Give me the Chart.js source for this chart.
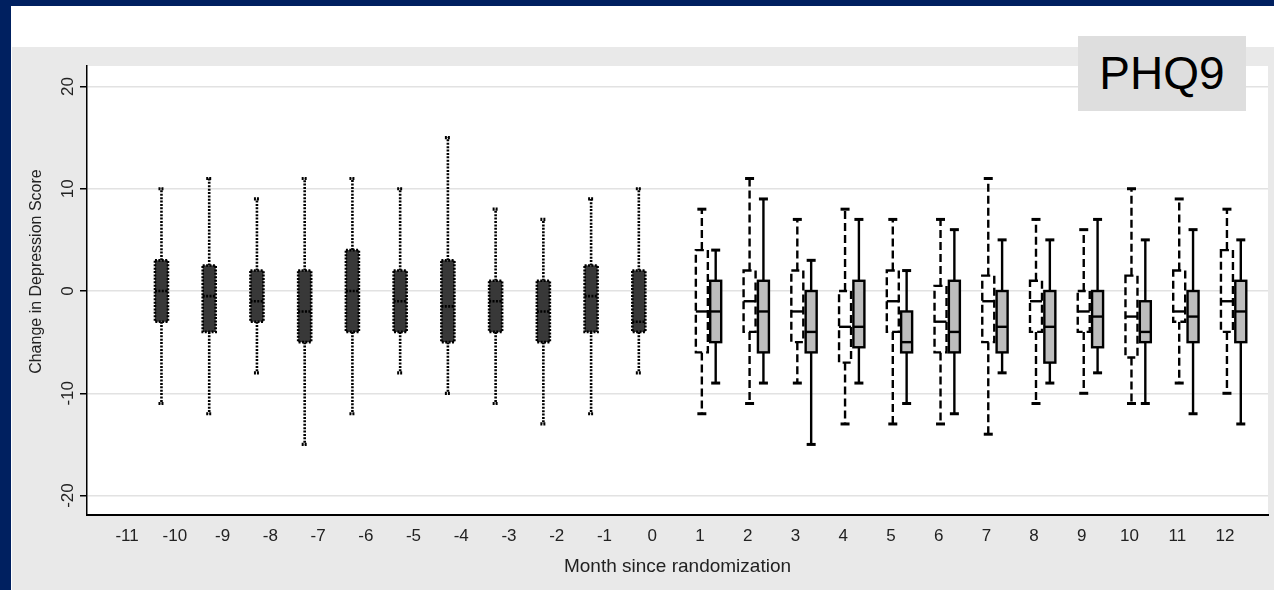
<!DOCTYPE html>
<html>
<head>
<meta charset="utf-8">
<script src="https://cdn.jsdelivr.net/npm/chart.js@4.4.1/dist/chart.umd.min.js"></script>
<style>
  html, body { margin: 0; padding: 0; }
  body { width: 1274px; height: 590px; background: #002060; position: relative; overflow: hidden;
         font-family: "Liberation Sans", Arial, sans-serif; }
  #blanco { position: absolute; left: 11px; top: 6px; width: 1263px; height: 584px; background: #fff; }
  #panel { position: absolute; left: 12px; top: 47px; width: 1262px; height: 543px; background: #e9e9e9; }
  #etiqueta { position: absolute; left: 1078px; top: 36px; width: 168px; height: 75px; background: #dedede;
              font-size: 46px; line-height: 75px; text-align: center; color: #000; z-index: 5; }
</style>
</head>
<body>
<div id="blanco"></div>
<div id="panel"><canvas id="grafico" width="1262" height="543"></canvas></div>
<div id="etiqueta">PHQ9</div>
<script>
// ticks
const mesesTicks = [-11, -10, -9, -8, -7, -6, -5, -4, -3, -2, -1, 0, 1, 2, 3, 4, 5, 6, 7, 8, 9, 10, 11, 12];
const yTicks = [-20, -10, 0, 10, 20];
const yTitulo = 'Change in Depression Score';

// antes de la aleatorizacion (cajas punteadas)
const mesesPre = [-10, -9, -8, -7, -6, -5, -4, -3, -2, -1, 0];
const preMin = [-11, -12, -8, -15, -12, -8, -10, -11, -13, -12, -8];
const preQ1  = [-3, -4, -3, -5, -4, -4, -5, -4, -5, -4, -4];
const preMed = [0, -0.5, -1, -2, 0, -1, -1.5, -1, -2, -0.5, -3];
const preQ3  = [3, 2.5, 2, 2, 4, 2, 3, 1, 1, 2.5, 2];
const preMax = [10, 11, 9, 11, 11, 10, 15, 8, 7, 9, 10];

// despues (cajas blancas discontinuas)
const mesesPost = [1, 2, 3, 4, 5, 6, 7, 8, 9, 10, 11, 12];
const aMin = [-12, -11, -9, -13, -13, -13, -14, -11, -10, -11, -9, -10];
const aQ1  = [-6, -4, -5, -7, -4, -6, -5, -4, -4, -6.5, -3, -4];
const aMed = [-2, -1, -2, -3.5, -1, -3, -1, -1, -2, -2.5, -2, -1];
const aQ3  = [4, 2, 2, 0, 2, 0.5, 1.5, 1, 0, 1.5, 2, 4];
const aMax = [8, 11, 7, 8, 7, 7, 11, 7, 6, 10, 9, 8];

// despues (cajas grises solidas)
const bMin = [-9, -9, -15, -9, -11, -12, -8, -9, -8, -11, -12, -13];
const bQ1  = [-5, -6, -6, -5.5, -6, -6, -6, -7, -5.5, -5, -5, -5];
const bMed = [-2, -2, -4, -3.5, -5, -4, -3.5, -3.5, -2.5, -4, -2.5, -2];
const bQ3  = [1, 1, 0, 1, -2, 1, 0, 0, 0, -1, 0, 1];
const bMax = [4, 9, 3, 7, 2, 6, 5, 5, 7, 5, 6, 5];

function armarCajas(meses, desp, mn, q1, med, q3, mx) {
  return meses.map((m, i) => ({ x: m + desp, y: med[i], min: mn[i], q1: q1[i], med: med[i], q3: q3[i], max: mx[i] }));
}

const estilos = {
  pre:   { ancho: 13, tapa: 6, lw: 2.6, dash: [2, 1.4], fill: '#383838', tapaDash: [2, 1] },
  ctrl:  { ancho: 12, tapa: 9, lw: 2.4, dash: [8, 4], fill: '#ffffff', tapaDash: [] },
  inter: { ancho: 11, tapa: 9, lw: 2.4, dash: [], fill: '#bdbdbd', tapaDash: [] }
};

function linea(ctx, x1, y1, x2, y2) {
  ctx.beginPath(); ctx.moveTo(x1, y1); ctx.lineTo(x2, y2); ctx.stroke();
}

const fondoPlugin = {
  id: 'fondo',
  beforeDraw(chart) {
    const { ctx, chartArea: a } = chart;
    ctx.save();
    ctx.fillStyle = '#fff';
    ctx.fillRect(a.left, a.top, a.right - a.left, a.bottom - a.top);
    ctx.restore();
  }
};

const cajasPlugin = {
  id: 'cajas',
  afterDatasetsDraw(chart) {
    const { ctx, scales: { x, y } } = chart;
    chart.data.datasets.forEach(ds => {
      const st = estilos[ds.estilo];
      ds.data.forEach(d => {
        const cx = x.getPixelForValue(d.x);
        const h = st.ancho / 2;
        const yMin = y.getPixelForValue(d.min), yQ1 = y.getPixelForValue(d.q1);
        const yMed = y.getPixelForValue(d.med), yQ3 = y.getPixelForValue(d.q3);
        const yMax = y.getPixelForValue(d.max);
        ctx.save();
        ctx.strokeStyle = '#000';
        ctx.lineWidth = st.lw;
        ctx.setLineDash(st.dash);
        linea(ctx, cx, yQ3, cx, yMax);
        linea(ctx, cx, yQ1, cx, yMin);
        ctx.setLineDash(st.tapaDash);
        ctx.lineWidth = st.lw + 0.6;
        linea(ctx, cx - st.tapa / 2, yMax, cx + st.tapa / 2, yMax);
        linea(ctx, cx - st.tapa / 2, yMin, cx + st.tapa / 2, yMin);
        ctx.lineWidth = st.lw;
        ctx.fillStyle = st.fill;
        ctx.fillRect(cx - h, yQ3, st.ancho, yQ1 - yQ3);
        ctx.setLineDash(st.dash);
        ctx.strokeRect(cx - h, yQ3, st.ancho, yQ1 - yQ3);
        ctx.setLineDash(ds.estilo === 'pre' ? st.dash : []);
        linea(ctx, cx - h, yMed, cx + h, yMed);
        ctx.restore();
      });
    });
  }
};

// etiquetas y titulo del eje y, giradas como en Stata
const yEtiquetasPlugin = {
  id: 'yEtiquetas',
  afterDraw(chart) {
    const { ctx, scales: { y } } = chart;
    ctx.save();
    ctx.fillStyle = '#222';
    ctx.textAlign = 'center';
    ctx.textBaseline = 'middle';
    ctx.font = '17px "Liberation Sans", Arial, sans-serif';
    yTicks.forEach(v => {
      ctx.save();
      ctx.translate(56, y.getPixelForValue(v));
      ctx.rotate(-Math.PI / 2);
      ctx.fillText(String(v), 0, 0);
      ctx.restore();
    });
    ctx.font = '16px "Liberation Sans", Arial, sans-serif';
    ctx.translate(25, y.getPixelForValue(1.9));
    ctx.rotate(-Math.PI / 2);
    ctx.fillText(yTitulo, 0, 0);
    ctx.restore();
  }
};

const ctx = document.getElementById('grafico').getContext('2d');
new Chart(ctx, {
  type: 'scatter',
  data: {
    datasets: [
      { label: 'pre', estilo: 'pre', data: armarCajas(mesesPre, -0.28, preMin, preQ1, preMed, preQ3, preMax), pointRadius: 0 },
      { label: 'ctrl', estilo: 'ctrl', data: armarCajas(mesesPost, 0.04, aMin, aQ1, aMed, aQ3, aMax), pointRadius: 0 },
      { label: 'inter', estilo: 'inter', data: armarCajas(mesesPost, 0.33, bMin, bQ1, bMed, bQ3, bMax), pointRadius: 0 }
    ]
  },
  options: {
    responsive: false,
    animation: false,
    devicePixelRatio: 1,
    layout: { padding: { top: 19, right: 6, left: 0, bottom: 0 } },
    plugins: { legend: { display: false }, tooltip: { enabled: false } },
    scales: {
      x: {
        type: 'linear',
        min: -11.84,
        max: 12.9,
        afterFit: s => { s.height = 75; },
        afterBuildTicks: s => { s.ticks = mesesTicks.map(v => ({ value: v })); },
        grid: { display: false, drawTicks: false },
        border: { color: '#000', width: 2 },
        ticks: { padding: 11, color: '#222', font: { size: 17, family: '"Liberation Sans", Arial, sans-serif' } },
        title: {
          display: true,
          text: 'Month since randomization',
          color: '#222',
          font: { size: 19, family: '"Liberation Sans", Arial, sans-serif' },
          padding: { top: 0, bottom: 12 }
        }
      },
      y: {
        min: -21.9,
        max: 22,
        afterFit: s => { s.width = 75; },
        afterBuildTicks: s => { s.ticks = yTicks.map(v => ({ value: v })); },
        grid: { color: '#e2e2e2', lineWidth: 1.5, tickColor: '#000', tickLength: 7, tickWidth: 1.5 },
        border: { color: '#000', width: 1.5 },
        ticks: { display: false }
      }
    }
  },
  plugins: [fondoPlugin, cajasPlugin, yEtiquetasPlugin]
});
</script>
</body>
</html>
